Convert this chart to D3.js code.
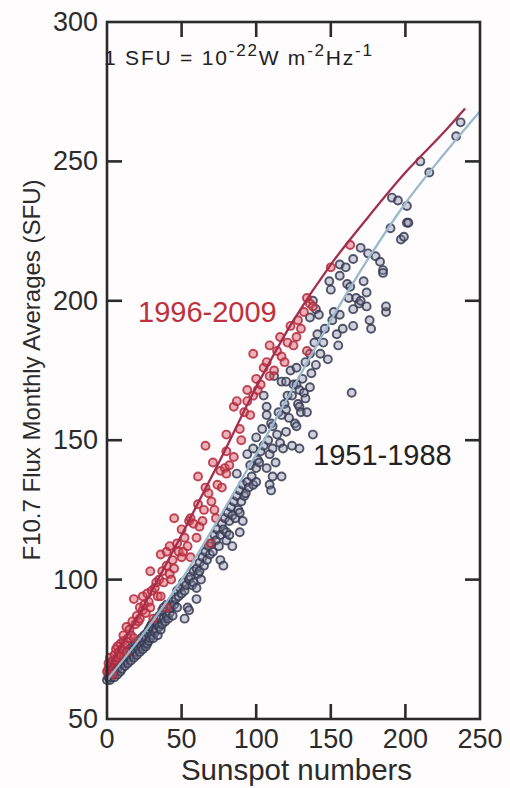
<!DOCTYPE html>
<html><head><meta charset="utf-8">
<script src="https://cdn.jsdelivr.net/npm/d3@7"></script>
<style>
html,body{margin:0;padding:0;background:#fefcfd;}
svg{display:block;}
text{font-family:"Liberation Sans",Arial,Helvetica,sans-serif;}
</style></head>
<body>
<script>
// ---------- data ----------
const xTicks = [0, 50, 100, 150, 200, 250];
const yTicks = [50, 100, 150, 200, 250, 300];
const seriesLabels = ["1996-2009", "1951-1988"];

// fit curves (sunspot number -> F10.7)
const redFitSSN  = [0, 25, 50, 75, 100, 125, 150, 175, 200, 225, 240];
const redFitFlux = [67, 91, 116, 142, 169, 193, 213, 230, 246, 260, 269];
const blueFitSSN  = [0, 25, 50, 75, 100, 125, 150, 175, 200, 225, 250];
const blueFitFlux = [64, 81, 100, 122, 145, 169, 193, 215, 235, 252, 268];

// monthly averages 1996-2009 [sunspot number, flux]
const red1996 = [[0,67],[1,68],[1,70],[2,69],[2,72],[3,70],[4,66],[4,71],[5,73],[6,71],[6,75],[7,72],[7,76],[8,74],[9,73],[9,77],[10,75],[11,78],[11,80],[12,77],[13,74],[13,83],[14,79],[15,82],[16,80],[17,85],[18,79],[18,93],[19,84],[20,87],[21,85],[22,86],[22,90],[24,89],[24,94],[25,91],[26,88],[27,95],[28,92],[29,90],[29,103],[30,96],[31,86],[32,97],[33,99],[34,94],[35,100],[36,94],[36,109],[37,103],[38,99],[40,90],[40,105],[40,110],[42,102],[42,112],[43,100],[44,107],[45,104],[45,122],[47,113],[48,110],[50,118],[50,108],[51,110],[52,115],[54,112],[55,121],[56,108],[56,122],[58,120],[60,115],[61,127],[61,137],[62,119],[64,121],[65,125],[66,133],[66,148],[68,131],[69,113],[70,128],[71,142],[72,125],[73,122],[74,134],[76,139],[77,133],[79,140],[80,138],[80,146],[80,152],[82,141],[85,144],[85,162],[87,164],[89,154],[90,150],[92,160],[94,168],[94,164],[96,159],[98,166],[98,181],[100,172],[101,168],[103,170],[105,176],[107,178],[109,173],[109,184],[112,175],[114,182],[116,187],[117,180],[119,178],[121,185],[123,191],[125,184],[127,187],[128,193],[130,190],[132,196],[134,182],[134,201],[136,199],[138,198],[150,212],[163,220]];

// monthly averages 1951-1988 [sunspot number, flux]
const dark1951 = [[0,64],[1,65],[1,66],[2,64],[2,67],[3,65],[3,68],[4,66],[4,67],[5,65],[5,69],[6,67],[6,70],[7,66],[7,68],[8,69],[8,71],[9,67],[9,70],[10,68],[10,72],[11,70],[11,73],[12,69],[12,71],[13,72],[13,74],[14,70],[14,73],[15,72],[15,75],[16,71],[16,74],[17,73],[17,76],[18,72],[18,75],[19,74],[19,77],[20,73],[20,76],[21,75],[21,78],[22,74],[22,77],[23,76],[23,79],[24,75],[24,78],[25,77],[25,80],[26,76],[26,79],[27,77],[27,81],[28,78],[28,82],[29,79],[29,83],[30,80],[30,84],[31,79],[31,82],[32,81],[32,85],[33,82],[33,86],[34,80],[34,84],[35,83],[35,87],[36,82],[36,86],[37,84],[37,89],[38,86],[38,90],[39,85],[40,87],[40,91],[41,86],[42,88],[42,91],[43,90],[44,87],[44,92],[45,91],[46,93],[47,90],[47,96],[48,94],[49,97],[50,95],[51,99],[52,86],[52,96],[53,98],[54,90],[55,89],[55,100],[56,101],[57,98],[58,99],[58,103],[60,97],[60,93],[60,104],[61,102],[62,103],[62,106],[63,100],[64,108],[65,105],[66,110],[67,107],[68,112],[69,109],[70,113],[71,110],[72,116],[73,114],[74,118],[75,112],[76,107],[76,116],[77,120],[78,105],[78,118],[79,122],[80,114],[80,117],[81,124],[82,116],[82,121],[83,126],[84,112],[84,123],[85,128],[86,122],[87,130],[87,138],[88,125],[89,117],[89,124],[89,132],[90,128],[91,121],[91,134],[92,130],[93,131],[94,135],[94,145],[95,133],[96,141],[97,137],[98,134],[98,147],[100,135],[100,140],[100,151],[101,143],[102,142],[103,146],[104,154],[105,148],[105,166],[107,140],[107,159],[107,162],[108,150],[109,134],[109,145],[110,132],[110,156],[111,137],[111,147],[111,155],[112,173],[113,142],[114,152],[115,160],[116,149],[117,137],[117,159],[117,171],[118,147],[119,163],[120,153],[120,161],[120,171],[121,166],[122,158],[123,175],[124,148],[124,166],[125,170],[126,156],[127,155],[127,170],[127,176],[128,163],[129,147],[129,162],[129,168],[130,160],[131,172],[132,167],[133,165],[133,178],[134,160],[136,169],[136,181],[136,194],[137,174],[138,152],[138,200],[139,185],[140,177],[140,197],[141,188],[142,195],[143,181],[145,185],[146,190],[148,179],[149,207],[150,204],[151,193],[152,196],[154,188],[155,184],[156,195],[156,209],[156,213],[158,190],[160,212],[161,206],[162,201],[163,205],[164,167],[165,191],[165,197],[165,215],[167,201],[169,199],[170,200],[170,219],[172,207],[174,198],[174,203],[175,217],[176,193],[177,190],[180,216],[183,214],[185,211],[185,210],[187,196],[187,198],[190,226],[191,237],[195,236],[197,222],[199,223],[201,228],[201,234],[202,228],[210,250],[216,246],[234,259],[237,264]];

// ---------- layout ----------
const W = 510, H = 788;
const L = 107, R = 480, T = 22, B = 719;
const svg = d3.select("body").append("svg").attr("width", W).attr("height", H);

const x = d3.scaleLinear().domain([0, 250]).range([L, R]);
const y = d3.scaleLinear().domain([50, 300]).range([B, T]);

const axisCol = "#2b2b2b";
const tickLen = 15;

// points
const gDark = svg.append("g");
gDark.selectAll("circle").data(dark1951).enter().append("circle")
  .attr("cx", d => x(d[0])).attr("cy", d => y(d[1])).attr("r", 4)
  .attr("fill", "rgba(140,142,165,0.4)").attr("stroke", "#353a52").attr("stroke-width", 1.9).attr("stroke-opacity", 0.85);

const gRed = svg.append("g");
gRed.selectAll("circle").data(red1996).enter().append("circle")
  .attr("cx", d => x(d[0])).attr("cy", d => y(d[1])).attr("r", 4)
  .attr("fill", "rgba(215,85,100,0.45)").attr("stroke", "#b52a3c").attr("stroke-width", 1.9).attr("stroke-opacity", 0.85);

// fit lines
const line = d3.line().x(d => x(d[0])).y(d => y(d[1])).curve(d3.curveCatmullRom);
svg.append("path").datum(blueFitSSN.map((s, i) => [s, blueFitFlux[i]]))
  .attr("d", line).attr("fill", "none").attr("stroke", "#9bb9cd").attr("stroke-width", 2.3);
svg.append("path").datum(redFitSSN.map((s, i) => [s, redFitFlux[i]]))
  .attr("d", line).attr("fill", "none").attr("stroke", "#a32d4c").attr("stroke-width", 2.3);

// frame
svg.append("rect").attr("x", L).attr("y", T).attr("width", R - L).attr("height", B - T)
  .attr("fill", "none").attr("stroke", axisCol).attr("stroke-width", 2.6);

// inward ticks on all four sides
const inX = xTicks.slice(1, -1), inY = yTicks.slice(1, -1);
const tk = svg.append("g").attr("stroke", axisCol).attr("stroke-width", 2.6);
tk.selectAll(".tb").data(inX).enter().append("line")
  .attr("x1", d => x(d)).attr("x2", d => x(d)).attr("y1", B).attr("y2", B - tickLen);
tk.selectAll(".tt").data(inX).enter().append("line")
  .attr("x1", d => x(d)).attr("x2", d => x(d)).attr("y1", T).attr("y2", T + tickLen);
tk.selectAll(".tl").data(inY).enter().append("line")
  .attr("y1", d => y(d)).attr("y2", d => y(d)).attr("x1", L).attr("x2", L + tickLen);
tk.selectAll(".tr").data(inY).enter().append("line")
  .attr("y1", d => y(d)).attr("y2", d => y(d)).attr("x1", R).attr("x2", R - tickLen);

// tick labels
const fs = 27;
svg.append("g").selectAll("text").data(xTicks).enter().append("text")
  .attr("x", d => x(d)).attr("y", 748).attr("text-anchor", "middle")
  .attr("font-size", fs).attr("fill", axisCol).text(d => d);
svg.append("g").selectAll("text").data(yTicks).enter().append("text")
  .attr("x", 98).attr("y", d => y(d) + 9).attr("text-anchor", "end")
  .attr("font-size", fs).attr("fill", axisCol).text(d => d);

// axis titles
svg.append("text").attr("x", (L + R) / 2 + 3).attr("y", 780).attr("text-anchor", "middle")
  .attr("font-size", 29.5).attr("fill", axisCol).text("Sunspot numbers");
svg.append("text").attr("transform", "translate(40,370) rotate(-90)").attr("text-anchor", "middle")
  .attr("font-size", 24).attr("fill", axisCol).text("F10.7 Flux Monthly Averages (SFU)");

// unit annotation
const ann = svg.append("text").attr("x", 104).attr("y", 65).attr("font-size", 21).attr("fill", "#222")
  .attr("textLength", 268).attr("lengthAdjust", "spacing");
ann.append("tspan").text("1 SFU = 10");
ann.append("tspan").attr("font-size", 17).attr("dy", -9).text("-22");
ann.append("tspan").attr("dy", 9).text("W m");
ann.append("tspan").attr("font-size", 17).attr("dy", -9).text("-2");
ann.append("tspan").attr("dy", 9).text("Hz");
ann.append("tspan").attr("font-size", 17).attr("dy", -9).text("-1");

// series labels
svg.append("text").attr("x", 138).attr("y", 322).attr("font-size", 29).attr("fill", "#c0303c").text(seriesLabels[0]);
svg.append("text").attr("x", 313).attr("y", 465).attr("font-size", 29).attr("fill", "#222").text(seriesLabels[1]);
</script>
</body></html>
